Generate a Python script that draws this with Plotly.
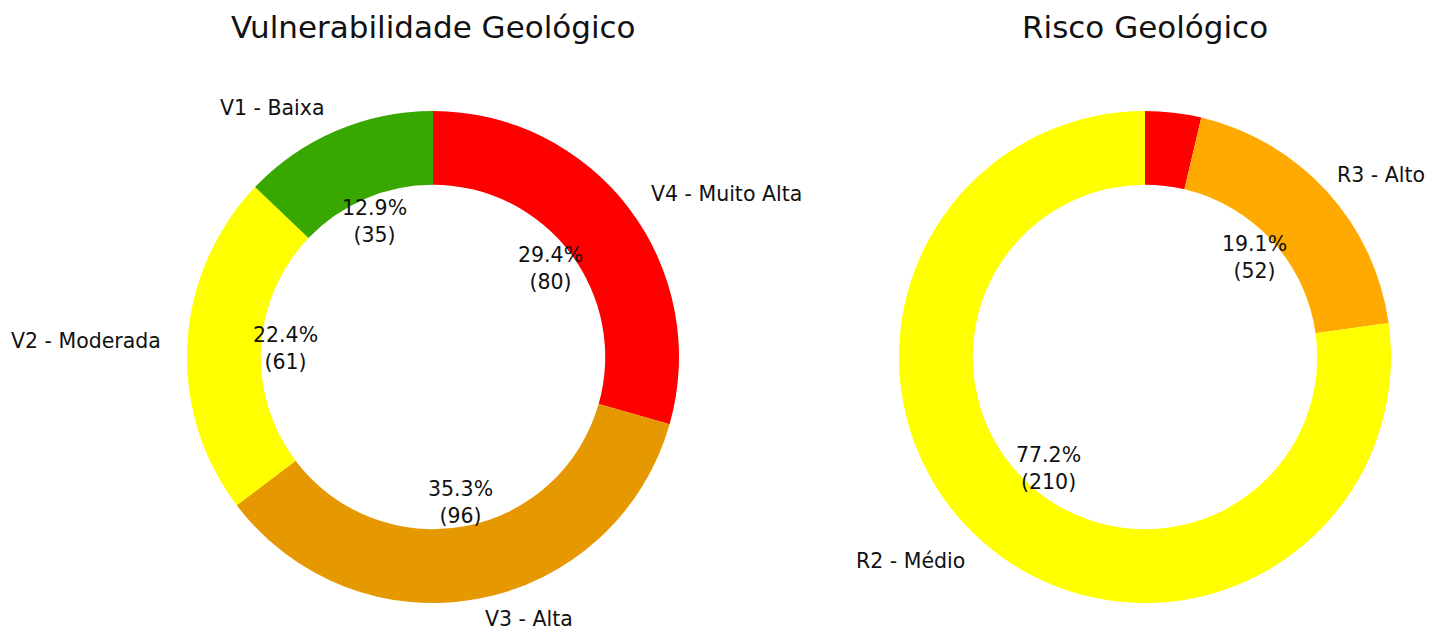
import math
import plotly.graph_objects as go

W, H = 1436, 630
OFF = 8  # page body margin in the browser
VISIBLE_RIGHT = 1427
VISIBLE_BOTTOM = 619

vul_labels = ["V1 - Baixa", "V2 - Moderada", "V3 - Alta", "V4 - Muito Alta"]
vul_values = [35, 61, 96, 80]
vul_colors = ["#38a800", "#ffff00", "#e69800", "#ff0000"]

risk_labels = ["R2 - Médio", "R3 - Alto", ""]
risk_values = [210, 52, 10]
risk_colors = ["#ffff00", "#ffaa00", "#ff0000"]

titles = ["Vulnerabilidade Geológico", "Risco Geológico"]

# layout (pixels, in window coordinates)
R = 246
centers = [(433, 357), (1145, 357)]
FONT = "DejaVu Sans"
FS = 20.5

fig = go.Figure()
annotations = []

def px2paper(x, y):
    return (x - OFF) / W, 1 - (y - OFF) / H

for (labels, values, colors, title, (cx, cy)) in [
    (vul_labels, vul_values, vul_colors, titles[0], centers[0]),
    (risk_labels, risk_values, risk_colors, titles[1], centers[1]),
]:
    x0, y1 = px2paper(cx - R, cy - R)
    x1, y0 = px2paper(cx + R, cy + R)
    # counterclockwise from 12 o'clock == clockwise with reversed order
    fig.add_trace(go.Pie(
        labels=[l if l else "R4" for l in labels][::-1], values=values[::-1],
        marker=dict(colors=colors[::-1], line=dict(width=0)),
        hole=0.7, sort=False, direction="clockwise", rotation=0,
        textinfo="none", hoverinfo="label+value+percent",
        domain=dict(x=[x0, x1], y=[y0, y1]), showlegend=False,
    ))
    total = sum(values)
    cum = 0
    for lab, v in zip(labels, values):
        frac = v / total
        theta = math.radians(90 + 360 * (cum + frac / 2))
        cum += frac
        if not lab:
            continue
        lx = cx + 1.1 * R * math.cos(theta)
        ly = min(cy - 1.1 * R * math.sin(theta), VISIBLE_BOTTOM)
        anchor = "left" if math.cos(theta) > 0 else "right"
        est_w = 0.55 * FS * len(lab)
        if anchor == "left" and lx + est_w > VISIBLE_RIGHT:
            lx, anchor = VISIBLE_RIGHT, "right"
        px_, py_ = px2paper(lx, ly)
        annotations.append(dict(
            x=px_, y=py_, xref="paper", yref="paper", text=lab, showarrow=False,
            xanchor=anchor, yanchor="middle",
            font=dict(family=FONT, size=FS, color="#111"),
        ))
        tx = cx + 0.6 * R * math.cos(theta)
        ty = cy - 0.6 * R * math.sin(theta)
        px_, py_ = px2paper(tx, ty)
        annotations.append(dict(
            x=px_, y=py_, xref="paper", yref="paper",
            text=f"{frac*100:.1f}%<br>({v})", showarrow=False,
            xanchor="center", yanchor="middle", align="center",
            font=dict(family=FONT, size=FS, color="#111"),
        ))
    tpx, tpy = px2paper(cx, 27)
    annotations.append(dict(
        x=tpx, y=tpy, xref="paper", yref="paper", text=title, showarrow=False,
        xanchor="center", yanchor="middle",
        font=dict(family=FONT, size=31, color="#111"),
    ))

fig.update_layout(
    width=W, height=H, margin=dict(l=0, r=0, t=0, b=0),
    paper_bgcolor="white", plot_bgcolor="white",
    annotations=annotations,
)

fig.write_html("out.html")
